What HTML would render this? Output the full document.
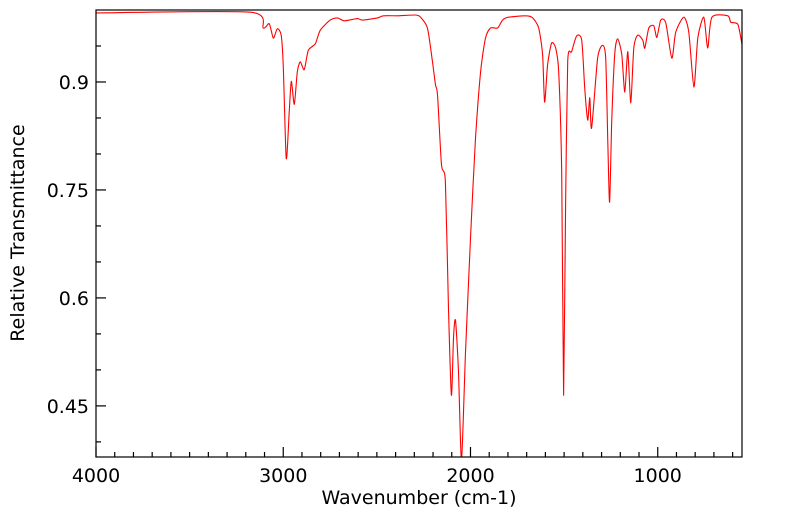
<!DOCTYPE html>
<html><head><meta charset="utf-8"><style>
body{margin:0;background:#fff}
svg text{font-family:"DejaVu Sans","Liberation Sans",sans-serif;fill:#000}
</style></head><body>
<svg id="chart" width="799" height="516" xmlns="http://www.w3.org/2000/svg">
<defs><clipPath id="pc"><rect x="96" y="10" width="646" height="447"/></clipPath></defs>
<rect x="96" y="10" width="646" height="447" fill="#fff" stroke="none"/>
<g id="ticks"></g>
<path id="line" clip-path="url(#pc)" fill="none" stroke="#ff0000" stroke-width="1.1"/>
<rect x="96" y="10" width="646" height="447" fill="none" stroke="#000" stroke-width="1.2"/>
<g id="labels"></g>
<text x="419" y="504" text-anchor="middle" font-size="19">Wavenumber (cm-1)</text>
<text transform="translate(24,233) rotate(-90)" text-anchor="middle" font-size="19">Relative Transmittance</text>
</svg>
<script>
const wavenumbers=[4000,3176,3107,3075,3053,3032,3011,3000,2984,2968,2957,2941,2925,2909,2888,2866,2829,2802,2749,2711,2674,2604,2577,2497,2465,2390,2294,2267,2230,2203,2187,2176,2155,2134,2118,2102,2091,2080,2064,2048,2027,2000,1973,1946,1920,1893,1855,1829,1797,1706,1668,1636,1615,1604,1588,1567,1545,1529,1513,1503,1492,1481,1460,1433,1406,1390,1374,1363,1353,1321,1294,1278,1267,1257,1246,1230,1214,1192,1176,1160,1144,1128,1107,1080,1069,1048,1021,1005,984,957,925,904,861,834,807,786,754,733,711,626,610,572,550];
const transmittance=[0.996,0.997,0.975,0.981,0.961,0.974,0.965,0.924,0.794,0.858,0.901,0.869,0.914,0.928,0.917,0.944,0.953,0.972,0.986,0.989,0.985,0.988,0.986,0.989,0.992,0.992,0.993,0.990,0.975,0.928,0.896,0.882,0.785,0.761,0.590,0.465,0.544,0.569,0.497,0.375,0.521,0.683,0.822,0.914,0.961,0.975,0.975,0.986,0.990,0.992,0.989,0.975,0.938,0.872,0.924,0.954,0.947,0.914,0.775,0.465,0.729,0.928,0.942,0.964,0.958,0.892,0.847,0.878,0.836,0.933,0.951,0.933,0.822,0.733,0.844,0.938,0.960,0.938,0.886,0.942,0.871,0.947,0.965,0.958,0.947,0.975,0.978,0.962,0.986,0.982,0.933,0.969,0.990,0.969,0.893,0.961,0.990,0.947,0.990,0.992,0.983,0.980,0.952];
const xMajorTicks=[4000,3000,2000,1000];
const yMajorTicks=[0.45,0.6,0.75,0.9];
const yMinorTicks=[0.4,0.5,0.55,0.65,0.7,0.8,0.85,0.95];
const X0=96,X1=742,Y0=10,Y1=457,WMAX=4000,WMIN=550,TMAX=1.0,TMIN=0.379;
function sx(w){return X0+(WMAX-w)/(WMAX-WMIN)*(X1-X0);}
function sy(t){return Y0+(TMAX-t)/(TMAX-TMIN)*(Y1-Y0);}
const NS='http://www.w3.org/2000/svg';
const pts=wavenumbers.map((w,i)=>[sx(w),sy(transmittance[i])]);
let d='M'+pts[0][0].toFixed(1)+','+pts[0][1].toFixed(1);
const k=0.12;
for(let i=0;i<pts.length-1;i++){
  const p0=pts[Math.max(0,i-1)],p1=pts[i],p2=pts[i+1],p3=pts[Math.min(pts.length-1,i+2)];
  const c1x=p1[0]+(p2[0]-p0[0])*k,c1y=p1[1]+(p2[1]-p0[1])*k;
  const c2x=p2[0]-(p3[0]-p1[0])*k,c2y=p2[1]-(p3[1]-p1[1])*k;
  d+='C'+c1x.toFixed(1)+','+c1y.toFixed(1)+' '+c2x.toFixed(1)+','+c2y.toFixed(1)+' '+p2[0].toFixed(1)+','+p2[1].toFixed(1);
}
document.getElementById('line').setAttribute('d',d);
const tg=document.getElementById('ticks'),lg=document.getElementById('labels');
function line(x1,y1,x2,y2,name){const l=document.createElementNS(NS,'line');
l.setAttribute('x1',x1);l.setAttribute('y1',y1);l.setAttribute('x2',x2);l.setAttribute('y2',y2);
l.setAttribute('stroke','#000');l.setAttribute('stroke-width','1.2');


tg.appendChild(l);}
function label(x,y,txt,anchor,name){const t=document.createElementNS(NS,'text');
t.setAttribute('x',x);t.setAttribute('y',y);t.setAttribute('text-anchor',anchor);t.setAttribute('font-size','19');t.textContent=txt;


lg.appendChild(t);}
for(let w=4000;w>=600;w-=100){const major=xMajorTicks.includes(w);line(sx(w),Y1,sx(w),Y1-(major?10:5),'x-tick');}
xMajorTicks.forEach(w=>label(sx(w),482,String(w),'middle','x-tick-label'));
yMajorTicks.forEach(t=>{line(X0,sy(t),X0+10,sy(t),'y-tick');label(X0-7,sy(t)+7,String(t),'end','y-tick-label');});
yMinorTicks.forEach(t=>line(X0,sy(t),X0+5,sy(t),'y-minor-tick'));
</script>
</body></html>
